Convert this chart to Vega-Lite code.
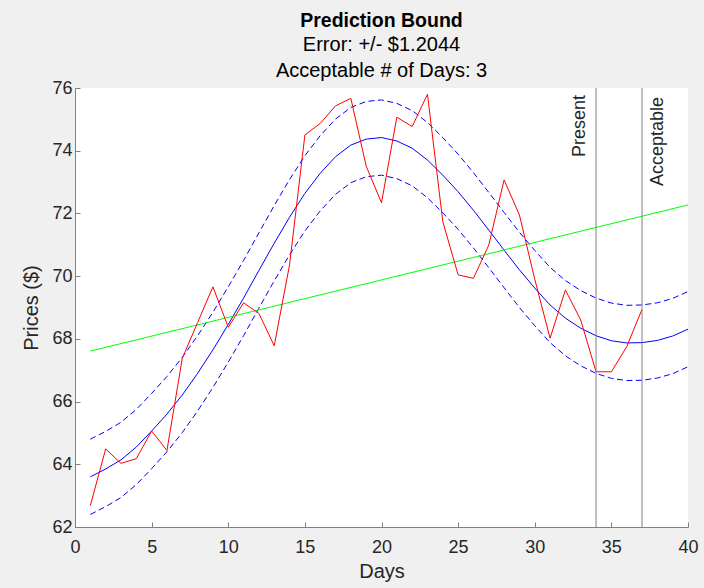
{
  "$schema": "https://vega.github.io/schema/vega-lite/v6.json",
  "width": 613,
  "height": 439,
  "autosize": {"type": "none"},
  "padding": {"left": 75, "top": 88, "right": 16, "bottom": 61},
  "background": "#f0f0f0",
  "config": {
    "font": "Liberation Sans",
    "view": {"fill": "white", "stroke": null},
    "axis": {
      "grid": false,
      "domainColor": "#808080",
      "tickColor": "#808080",
      "domainWidth": 1,
      "tickWidth": 1,
      "tickSize": -5,
      "labelFontSize": 18,
      "labelColor": "#262626",
      "titleFontSize": 20,
      "titleFontWeight": "normal",
      "titleColor": "#262626",
      "labelFont": "Liberation Sans",
      "titleFont": "Liberation Sans"
    }
  },
  "title": {
    "text": "Prediction Bound",
    "subtitle": ["Error: +/- $1.2044", "Acceptable # of Days: 3"],
    "anchor": "middle",
    "font": "Liberation Sans",
    "fontSize": 19.5,
    "fontWeight": "bold",
    "color": "#000000",
    "subtitleFont": "Liberation Sans",
    "subtitleFontSize": 20,
    "subtitleColor": "#000000",
    "subtitleLineHeight": 26,
    "subtitlePadding": 4,
    "offset": -3
  },
  "datasets": {
    "obs": [
      {"day": 1, "price": 62.68}, {"day": 2, "price": 64.49}, {"day": 3, "price": 64.03},
      {"day": 4, "price": 64.18}, {"day": 5, "price": 65.06}, {"day": 6, "price": 64.44},
      {"day": 7, "price": 67.38}, {"day": 8, "price": 68.52}, {"day": 9, "price": 69.66},
      {"day": 10, "price": 68.37}, {"day": 11, "price": 69.15}, {"day": 12, "price": 68.81},
      {"day": 13, "price": 67.78}, {"day": 14, "price": 70.36}, {"day": 15, "price": 74.5},
      {"day": 16, "price": 74.87}, {"day": 17, "price": 75.43}, {"day": 18, "price": 75.67},
      {"day": 19, "price": 73.51}, {"day": 20, "price": 72.34}, {"day": 21, "price": 75.07},
      {"day": 22, "price": 74.77}, {"day": 23, "price": 75.8}, {"day": 24, "price": 71.74},
      {"day": 25, "price": 70.04}, {"day": 26, "price": 69.93}, {"day": 27, "price": 70.99},
      {"day": 28, "price": 73.07}, {"day": 29, "price": 71.95}, {"day": 30, "price": 69.9},
      {"day": 31, "price": 68.02}, {"day": 32, "price": 69.56}, {"day": 33, "price": 68.6},
      {"day": 34, "price": 66.95}, {"day": 35, "price": 66.95}, {"day": 36, "price": 67.75},
      {"day": 37, "price": 68.94}
    ],
    "fit": [
      {"day": 1, "fit": 63.6, "upper": 64.8, "lower": 62.4},
      {"day": 2, "fit": 63.85, "upper": 65.05, "lower": 62.65},
      {"day": 3, "fit": 64.14, "upper": 65.34, "lower": 62.94},
      {"day": 4, "fit": 64.55, "upper": 65.75, "lower": 63.35},
      {"day": 5, "fit": 65.06, "upper": 66.26, "lower": 63.86},
      {"day": 6, "fit": 65.6, "upper": 66.8, "lower": 64.4},
      {"day": 7, "fit": 66.21, "upper": 67.41, "lower": 65.01},
      {"day": 8, "fit": 66.9, "upper": 68.1, "lower": 65.7},
      {"day": 9, "fit": 67.65, "upper": 68.85, "lower": 66.45},
      {"day": 10, "fit": 68.46, "upper": 69.66, "lower": 67.26},
      {"day": 11, "fit": 69.3, "upper": 70.5, "lower": 68.1},
      {"day": 12, "fit": 70.18, "upper": 71.38, "lower": 68.98},
      {"day": 13, "fit": 71.05, "upper": 72.25, "lower": 69.85},
      {"day": 14, "fit": 71.88, "upper": 73.08, "lower": 70.68},
      {"day": 15, "fit": 72.64, "upper": 73.84, "lower": 71.44},
      {"day": 16, "fit": 73.28, "upper": 74.48, "lower": 72.08},
      {"day": 17, "fit": 73.81, "upper": 75.01, "lower": 72.61},
      {"day": 18, "fit": 74.18, "upper": 75.38, "lower": 72.98},
      {"day": 19, "fit": 74.37, "upper": 75.57, "lower": 73.17},
      {"day": 20, "fit": 74.42, "upper": 75.62, "lower": 73.22},
      {"day": 21, "fit": 74.31, "upper": 75.51, "lower": 73.11},
      {"day": 22, "fit": 74.08, "upper": 75.28, "lower": 72.88},
      {"day": 23, "fit": 73.7, "upper": 74.9, "lower": 72.5},
      {"day": 24, "fit": 73.22, "upper": 74.42, "lower": 72.02},
      {"day": 25, "fit": 72.69, "upper": 73.89, "lower": 71.49},
      {"day": 26, "fit": 72.1, "upper": 73.3, "lower": 70.9},
      {"day": 27, "fit": 71.47, "upper": 72.67, "lower": 70.27},
      {"day": 28, "fit": 70.83, "upper": 72.03, "lower": 69.63},
      {"day": 29, "fit": 70.2, "upper": 71.4, "lower": 69.0},
      {"day": 30, "fit": 69.62, "upper": 70.82, "lower": 68.42},
      {"day": 31, "fit": 69.08, "upper": 70.28, "lower": 67.88},
      {"day": 32, "fit": 68.66, "upper": 69.86, "lower": 67.46},
      {"day": 33, "fit": 68.34, "upper": 69.54, "lower": 67.14},
      {"day": 34, "fit": 68.1, "upper": 69.3, "lower": 66.9},
      {"day": 35, "fit": 67.94, "upper": 69.14, "lower": 66.74},
      {"day": 36, "fit": 67.87, "upper": 69.07, "lower": 66.67},
      {"day": 37, "fit": 67.88, "upper": 69.08, "lower": 66.68},
      {"day": 38, "fit": 67.95, "upper": 69.15, "lower": 66.75},
      {"day": 39, "fit": 68.09, "upper": 69.29, "lower": 66.89},
      {"day": 40, "fit": 68.31, "upper": 69.51, "lower": 67.11}
    ],
    "trend": [
      {"day": 1, "trend": 67.61},
      {"day": 40, "trend": 72.27}
    ],
    "markers": [
      {"day": 34, "label": "Present", "side": "left"},
      {"day": 37, "label": "Acceptable", "side": "right"}
    ]
  },
  "layer": [
    {
      "data": {"name": "fit"},
      "mark": {"type": "line", "color": "#0000ff", "strokeWidth": 1, "strokeDash": [6, 3.5]},
      "encoding": {
        "x": {
          "field": "day", "type": "quantitative",
          "scale": {"domain": [0, 40], "nice": false},
          "axis": {"values": [0, 5, 10, 15, 20, 25, 30, 35, 40], "title": "Days", "labelPadding": 16, "titlePadding": 5, "labelFlush": false}
        },
        "y": {
          "field": "upper", "type": "quantitative",
          "scale": {"domain": [62, 76], "nice": false, "zero": false},
          "axis": {"values": [62, 64, 66, 68, 70, 72, 74, 76], "title": "Prices ($)", "labelPadding": 8, "titlePadding": 10}
        }
      }
    },
    {
      "data": {"name": "fit"},
      "mark": {"type": "line", "color": "#0000ff", "strokeWidth": 1, "strokeDash": [6, 3.5]},
      "encoding": {
        "x": {"field": "day", "type": "quantitative"},
        "y": {"field": "lower", "type": "quantitative"}
      }
    },
    {
      "data": {"name": "fit"},
      "mark": {"type": "line", "color": "#0000ff", "strokeWidth": 1},
      "encoding": {
        "x": {"field": "day", "type": "quantitative"},
        "y": {"field": "fit", "type": "quantitative"}
      }
    },
    {
      "data": {"name": "trend"},
      "mark": {"type": "line", "color": "#00ff00", "strokeWidth": 1},
      "encoding": {
        "x": {"field": "day", "type": "quantitative"},
        "y": {"field": "trend", "type": "quantitative"}
      }
    },
    {
      "data": {"name": "obs"},
      "mark": {"type": "line", "color": "#ff0000", "strokeWidth": 1},
      "encoding": {
        "x": {"field": "day", "type": "quantitative"},
        "y": {"field": "price", "type": "quantitative"}
      }
    },
    {
      "data": {"name": "markers"},
      "mark": {"type": "rule", "color": "#808080", "strokeWidth": 1},
      "encoding": {
        "x": {"field": "day", "type": "quantitative"}
      }
    },
    {
      "data": {"name": "markers"},
      "transform": [{"filter": "datum.side == 'left'"}],
      "mark": {"type": "text", "angle": 270, "align": "right", "baseline": "alphabetic", "fontSize": 18, "color": "#262626", "dx": -7, "dy": -11},
      "encoding": {
        "x": {"field": "day", "type": "quantitative"},
        "y": {"datum": 76, "type": "quantitative"},
        "text": {"field": "label"}
      }
    },
    {
      "data": {"name": "markers"},
      "transform": [{"filter": "datum.side == 'right'"}],
      "mark": {"type": "text", "angle": 270, "align": "right", "baseline": "alphabetic", "fontSize": 18, "color": "#262626", "dx": -9, "dy": 21},
      "encoding": {
        "x": {"field": "day", "type": "quantitative"},
        "y": {"datum": 76, "type": "quantitative"},
        "text": {"field": "label"}
      }
    }
  ]
}
